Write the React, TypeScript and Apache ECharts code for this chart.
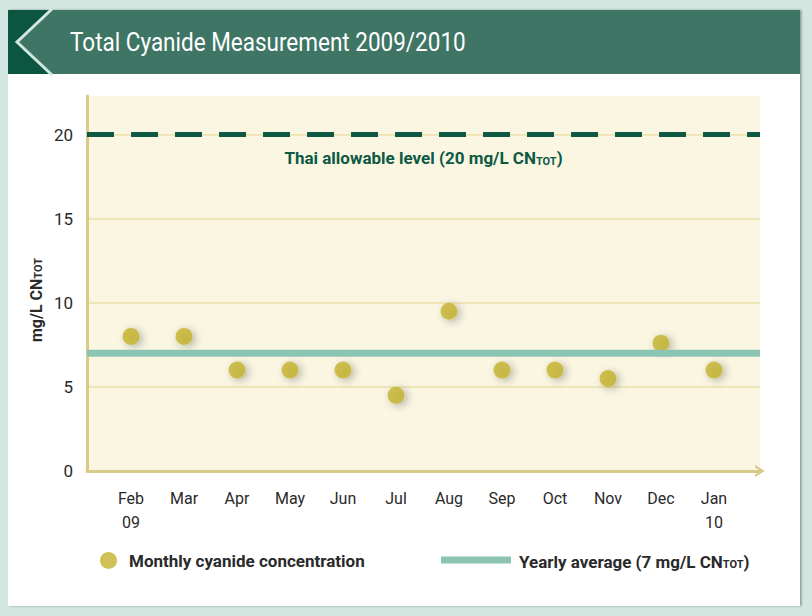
import React, { useEffect, useRef } from "react";
import * as echarts from "echarts";

const MONTHS = ["Feb\n09", "Mar", "Apr", "May", "Jun", "Jul", "Aug", "Sep", "Oct", "Nov", "Dec", "Jan\n10"];
const CONCENTRATION = [8, 8, 6, 6, 6, 4.5, 9.5, 6, 6, 5.5, 7.6, 6];
const YEARLY_AVERAGE = 7;
const THAI_LIMIT = 20;
const Y_TICKS = [0, 5, 10, 15, 20];

const TITLE = "Total Cyanide Measurement 2009/2010";
const SCATTER_NAME = "Monthly cyanide concentration";
const AVG_NAME = "Yearly average (7 mg/L CNTOT)";

const FONT = "Roboto, 'Liberation Sans', sans-serif";
const TEXT = "#2a2a2a";
const DARK_GREEN = "#0d5943";

export default function App() {
  const ref = useRef<HTMLDivElement>(null);

  useEffect(() => {
    document.body.style.margin = "0";
    if (!ref.current) return;
    const chart = echarts.init(ref.current, undefined, { renderer: "svg" });

    const mkRich = (color: string, key: "color" | "fill", size = 17) => ({
      a: { fontFamily: FONT, fontSize: size, fontWeight: "bold", [key]: color, verticalAlign: "bottom", lineHeight: 20 },
      s: { fontFamily: FONT, fontSize: 11, fontWeight: "bold", [key]: color, verticalAlign: "bottom", lineHeight: 17 },
    });

    const option: any = {
      animation: false,
      backgroundColor: "transparent",
      graphic: [
        {
          type: "rect", z: -10, silent: true,
          shape: { x: 8, y: 10, width: 792, height: 596 },
          style: { fill: "#ffffff", shadowColor: "rgba(0,0,0,0.35)", shadowBlur: 2, shadowOffsetX: 1.5 },
        },
        { type: "rect", z: -9, silent: true, shape: { x: 8, y: 10, width: 792, height: 64 }, style: { fill: "#3e7565" } },
        {
          type: "polygon", z: -8, silent: true,
          shape: { points: [[8, 10], [51, 10], [17, 42], [51, 74], [8, 74]] },
          style: { fill: "#0c5641" },
        },
        {
          type: "polyline", z: -7, silent: true,
          shape: { points: [[52, 9], [17, 42], [52, 75]] },
          style: { stroke: "#d3e7e1", lineWidth: 3, fill: null },
        },
        {
          type: "text", z: -6, silent: true, x: 70, y: 43, scaleX: 0.9,
          style: { text: TITLE, fill: "#ffffff", fontFamily: FONT, fontSize: 25, verticalAlign: "middle" },
        },
        {
          type: "text", silent: true, x: 34, y: 300, rotation: Math.PI / 2,
          style: {
            text: "{a|mg/L CN}{s|TOT}", align: "center", verticalAlign: "middle",
            rich: mkRich(TEXT, "fill", 16),
          },
        },
      ],
      legend: [
        {
          data: [SCATTER_NAME], left: 95, top: 547, icon: "circle", itemWidth: 17, itemHeight: 17,
          textStyle: { fontFamily: FONT, fontSize: 17, fontWeight: "bold", color: TEXT, padding: [0, 0, 0, 7] },
          selectedMode: false,
        },
        {
          data: [AVG_NAME], left: 436, top: 548, icon: "rect", itemWidth: 70, itemHeight: 7,
          formatter: () => "{a|Yearly average (7 mg/L CN}{s|TOT}{a|)}",
          textStyle: { padding: [0, 0, 0, 3], rich: mkRich(TEXT, "color") },
          selectedMode: false,
        },
      ],
      grid: [
        { left: 87, top: 96, width: 673, height: 375, show: true, backgroundColor: "#faf6e2", borderWidth: 0 },
        { left: 104.5, top: 96, width: 636, height: 375 },
      ],
      xAxis: [
        {
          gridIndex: 0, type: "value", min: 0, max: 1,
          axisLine: {
            show: true, lineStyle: { color: "#d8ca88", width: 3 },
            symbol: ["none", "path://M0,10 L6,0 L12,10 L9.5,10 L6,4 L2.5,10 Z"], symbolSize: [13, 10],
          },
          axisTick: { show: false }, axisLabel: { show: false }, splitLine: { show: false },
        },
        {
          gridIndex: 1, type: "category", data: MONTHS,
          axisLine: { show: false }, axisTick: { show: false },
          axisLabel: { fontFamily: FONT, fontSize: 16, color: TEXT, margin: 15, lineHeight: 24 },
        },
      ],
      yAxis: [
        {
          gridIndex: 0, type: "value", min: 0, max: 22.3, interval: 5,
          axisLine: { show: true, lineStyle: { color: "#d8ca88", width: 3 } },
          axisTick: { show: false },
          axisLabel: {
            fontFamily: FONT, fontSize: 17, color: TEXT, margin: 14, showMaxLabel: false,
            formatter: (v: number) => (Y_TICKS.includes(v) ? String(v) : ""),
          },
          splitLine: { show: true, showMinLine: false, showMaxLine: false, lineStyle: { color: "#efe5b7", width: 2 } },
        },
        { gridIndex: 1, type: "value", min: 0, max: 22.3, show: false },
      ],
      series: [
        {
          name: AVG_NAME, type: "line", xAxisIndex: 0, yAxisIndex: 0,
          data: [[0, YEARLY_AVERAGE], [1, YEARLY_AVERAGE]],
          symbol: "none", silent: true,
          lineStyle: { color: "#8cc4b4", width: 7 },
          itemStyle: { color: "#8cc4b4" },
          markLine: {
            silent: true, symbol: ["none", "none"],
            data: [{ yAxis: THAI_LIMIT }],
            lineStyle: { color: DARK_GREEN, width: 5, type: [27, 17] },
            label: {
              position: "insideMiddleBottom", distance: 12,
              formatter: "{a|Thai allowable level (20 mg/L CN}{s|TOT}{a|)}",
              rich: mkRich(DARK_GREEN, "color"),
            },
          },
        },
        {
          name: SCATTER_NAME, type: "scatter", xAxisIndex: 1, yAxisIndex: 1,
          data: CONCENTRATION, symbolSize: 17,
          itemStyle: {
            color: "#c3b12d", shadowColor: "rgba(0,0,0,0.35)", shadowBlur: 9, shadowOffsetX: 3, shadowOffsetY: 2,
          },
        },
      ],
    };

    chart.setOption(option);
    return () => chart.dispose();
  }, []);

  return (
    <div style={{ width: 812, height: 616, background: "#d3e7e1" }}>
      <div ref={ref} style={{ width: 812, height: 616 }} />
    </div>
  );
}
